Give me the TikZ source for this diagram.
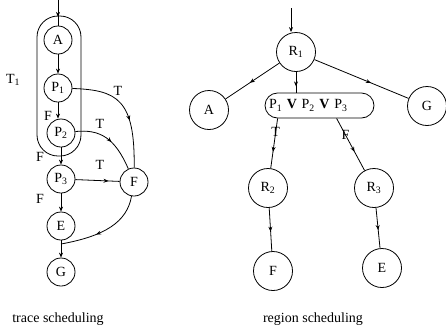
\documentclass[tikz,border=0pt]{standalone}
\usepackage{fontspec}
\setmainfont{Liberation Serif}
\usetikzlibrary{arrows.meta,decorations.markings,calc}
\tikzset{
 lc/.style={circle,draw,line width=0.8pt,minimum size=28pt,inner sep=0pt,font=\fontsize{14}{16}\selectfont},
 rc/.style={circle,draw,line width=0.8pt,minimum size=39pt,inner sep=0pt,font=\fontsize{14}{16}\selectfont},
 lab/.style={font=\fontsize{14}{16}\selectfont, inner sep=0pt},
 captxt/.style={font=\fontsize{14}{16}\selectfont, inner sep=0pt, anchor=base},
 tip/.style={-{Stealth[length=5pt,width=4pt]}},
 marr/.style={postaction={decorate},decoration={markings,mark=at position #1 with {\arrow{Stealth[length=5pt,width=4pt]}}}},
}
\begin{document}
\begin{tikzpicture}[x=1pt,y=-1pt,line width=0.8pt]
\useasboundingbox (0,0) rectangle (446,327);
% ---------- trace scheduling ----------
\node[draw, rounded corners=21pt, minimum width=44pt, minimum height=140pt, inner sep=0pt] (tbox) at (59,86) {};
\node[lc] (A) at (58,40) {A};
\node[lc] (P1) at (58,88) {P\textsubscript{1}};
\node[lc] (P2) at (61,133) {P\textsubscript{2}};
\node[lc] (P3) at (61,179) {P\textsubscript{3}};
\node[lc] (E) at (61,226) {E};
\node[lc] (G) at (61,272) {G};
\node[lc] (F) at (134,182) {F};
\coordinate (inL) at (58,0);
\coordinate (j) at (61,244);
\draw[marr=0.66] (inL) -- (A);
\draw[tip] (A) -- (P1);
\draw[tip] (P1) -- (P1 |- P2.north);
\draw[tip] (P2) -- (P3);
\draw[tip] (P3) -- (E);
\draw[tip] (E) -- (G);
\draw[marr=0.75] (P3) -- (F);
\draw[marr=0.6] (P1) .. controls (118,90) and (135,100) .. (F);
\draw[marr=0.55] (P2) .. controls (100,129) and (115,138) .. (F);
\draw[marr=0.6] (F) .. controls (127,222) and (105,236) .. (j);
\node[lab] (t1) at (13,80) {T\textsubscript{1}};
\node[lab] (f1) at (48,116) {F};
\node[lab] (f2) at (40,157) {F};
\node[lab] (f3) at (40,199) {F};
\node[lab] (tt1) at (118,91) {T};
\node[lab] (tt2) at (100,124) {T};
\node[lab] (tt3) at (100,165) {T};
\node[captxt] (c1) at (58,322) {trace scheduling};
% ---------- region scheduling ----------
\node[rc] (R1) at (296,52) {R\textsubscript{1}};
\node[rc] (RA) at (209,110) {A};
\node[rc] (RG) at (427,106) {G};
\node[draw, rounded corners=12.5pt, text width=101pt, inner xsep=4pt, inner ysep=0pt, minimum height=25pt, align=left, font=\fontsize{14}{16}\selectfont] (box) at (319.5,105.5) {P\textsubscript{1} \textbf{V} P\textsubscript{2} \textbf{V} P\textsubscript{3}};
\node[rc] (R2) at (268,188) {R\textsubscript{2}};
\node[rc] (R3) at (374,188) {R\textsubscript{3}};
\node[rc] (RF) at (273,271) {F};
\node[rc] (RE) at (382,268) {E};
\coordinate (inR) at (291,8);
\coordinate (bT) at ($(box.south west)+(13,0)$);
\coordinate (bF) at ($(box.south west)+(72,0)$);
\draw[tip] (inR) -- (inR |- R1.north);
\draw[marr=0.55] (R1) -- (RA);
\draw[marr=0.6] (R1) -- (RG);
\draw[marr=0.7] (R1) -- (R1 |- box.north);
\draw[marr=0.67] (bT) -- node[lab,pos=0.28]{T} (R2);
\draw[marr=0.64] (bF) -- node[lab,pos=0.32]{F} (R3);
\draw[marr=0.55] (R2) -- (RF);
\draw[marr=0.55] (R3) -- (RE);
\node[captxt] (c2) at (313,322) {region scheduling};
\end{tikzpicture}
\end{document}
